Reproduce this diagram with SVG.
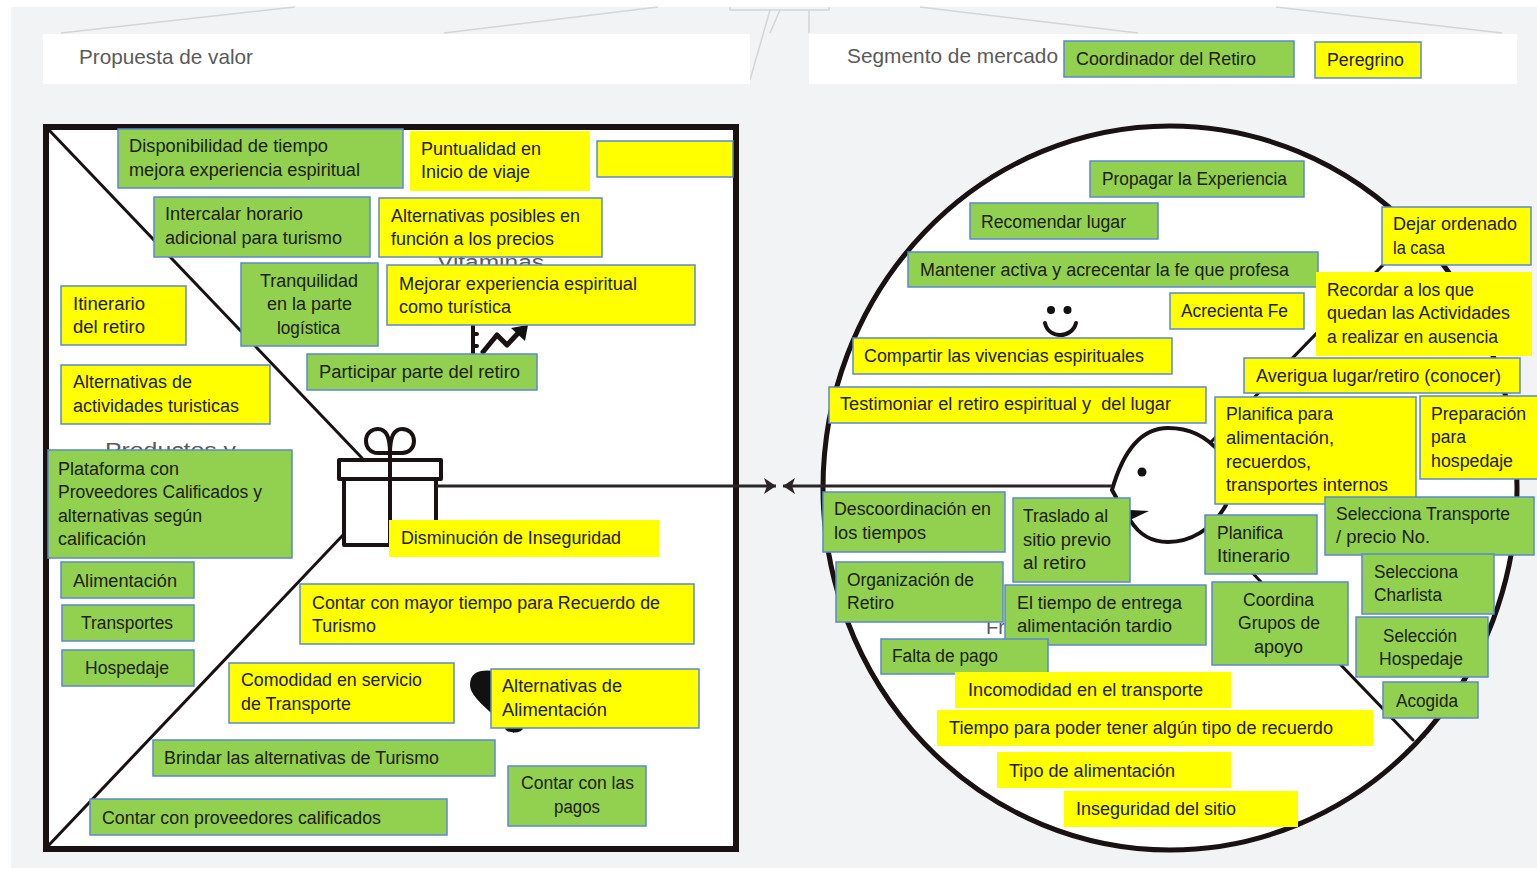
<svg xmlns="http://www.w3.org/2000/svg" width="1537" height="870" viewBox="0 0 1537 870">
<style>
text{font-family:"Liberation Sans",Arial,sans-serif;font-size:18px;fill:#20200c;white-space:pre}
.g{fill:#92d050;stroke:#5b88cf;stroke-width:1.5}
.y{fill:#ffff00;stroke:#5b88cf;stroke-width:1.5}
.n{fill:#ffff00}
.h{font-size:21px;fill:#5a5a5a}
.t{font-size:20px;fill:#5a5a5a}
.f{fill:none;stroke:#d3d5d7;stroke-width:1.5}
.k{fill:none;stroke:#1a1212;stroke-linecap:round;stroke-linejoin:round}
.c{fill:none;stroke:#2a2424;stroke-width:3}
</style>
<defs>
<marker id="ah" markerUnits="userSpaceOnUse" markerWidth="14" markerHeight="18" refX="12" refY="9" orient="auto-start-reverse"><path d="M0 1L12 9L0 17L3 9Z" fill="#2a2424"/></marker>
</defs>
<rect width="1537" height="870" fill="#fff"/>
<rect x="11" y="7" width="1526" height="861" fill="#f1f3f5"/>
<path class="f" d="M61 33L295 7M444 33L658 7M920 7L1138 33M1276 7L1502 33M730 7V10H829V7M770 10L750 80M780 10L770 33M809 10V33"/>
<rect x="43" y="34" width="707" height="50" fill="#fff"/>
<rect x="809" y="34" width="708" height="50" fill="#fff"/>
<text class="h" x="79" y="64" textLength="174" lengthAdjust="spacingAndGlyphs">Propuesta de valor</text>
<text class="h" x="847" y="63" textLength="211" lengthAdjust="spacingAndGlyphs">Segmento de mercado</text>

<rect x="46" y="127" width="690" height="722" fill="#fff" stroke="#1a1212" stroke-width="6"/>
<ellipse cx="1170" cy="488" rx="347" ry="362" fill="#fff" stroke="#1a1212" stroke-width="5"/>
<path class="k" stroke-width="3" d="M49 130L362 458M49 845L343 535M1415 232L1211 442M1240 560L1413 740"/>

<g class="k" stroke-width="4">
<path d="M390 453H378C370 453 366 447 366 441C366 433 372 429 378 429C386 429 390 437 390 453C390 437 394 429 402 429C409 429 414 434 414 441C414 448 409 453 402 453H390Z"/>
<path d="M344 479V545H436V479" fill="#fff"/>
<rect x="339" y="460" width="102" height="19" fill="#fff"/>
<path d="M390 453V545"/>
<path d="M1112 490C1120 462 1135 428 1168 428C1190 428 1205 436 1220 452M1112 490L1116 497M1130 520C1140 536 1152 542 1168 542C1190 542 1212 530 1226 505" fill="none"/>
<path d="M473 326V354M473 334H477M473 346H477"/>
<path d="M483 352L497 335L507 345L522 329" stroke-width="5"/>
<path d="M1045 323C1048 339 1072 339 1076 323" stroke-width="4"/>
</g>
<path d="M528 325L511 328L525 341Z" fill="#111"/>
<path d="M1130 510L1149 511L1130 520Z" fill="#111"/>
<circle cx="1142" cy="472" r="4.5" fill="#111"/>
<circle cx="1051" cy="310" r="4" fill="#111"/>
<circle cx="1067.5" cy="310" r="4" fill="#111"/>
<path d="M514 733C495 715 470 698 470 685C470 672 480 669 495 671L514 690Z" fill="#111"/>
<ellipse cx="514" cy="728" rx="9" ry="4.5" fill="#111"/>

<text class="t" x="437" y="269" textLength="107" lengthAdjust="spacingAndGlyphs">Vitaminas</text>
<text class="t" x="105" y="457" textLength="131" lengthAdjust="spacingAndGlyphs">Productos y</text>
<text class="t" x="986" y="634">Fr</text>

<g id="connectors">
<path class="c" d="M436 486H776" marker-end="url(#ah)"/>
<path class="c" d="M1112 486H783" marker-end="url(#ah)"/>
</g>

<g id="n1"><rect class="g" x="118" y="129" width="285" height="59"/><text x="129" y="152" textLength="199" lengthAdjust="spacingAndGlyphs">Disponibilidad de tiempo</text><text x="129" y="176" textLength="231" lengthAdjust="spacingAndGlyphs">mejora experiencia espiritual</text></g>
<g id="n2"><rect class="n" x="410" y="131" width="180" height="60"/><text x="421" y="155" textLength="120" lengthAdjust="spacingAndGlyphs">Puntualidad en</text><text x="421" y="178" textLength="109" lengthAdjust="spacingAndGlyphs">Inicio de viaje</text></g>
<g id="n3"><rect class="y" x="597" y="141" width="136" height="36"/></g>
<g id="n4"><rect class="g" x="154" y="197" width="216" height="60"/><text x="165" y="220" textLength="138" lengthAdjust="spacingAndGlyphs">Intercalar horario</text><text x="165" y="244" textLength="177" lengthAdjust="spacingAndGlyphs">adicional para turismo</text></g>
<g id="n5"><rect class="y" x="379" y="198" width="223" height="59"/><text x="391" y="222" textLength="189" lengthAdjust="spacingAndGlyphs">Alternativas posibles en</text><text x="391" y="245" textLength="163" lengthAdjust="spacingAndGlyphs">función a los precios</text></g>
<g id="n6"><rect class="g" x="241" y="263" width="137" height="83"/><text x="260" y="287" textLength="98" lengthAdjust="spacingAndGlyphs">Tranquilidad</text><text x="267" y="310" textLength="85" lengthAdjust="spacingAndGlyphs">en la parte</text><text x="277" y="334" textLength="63" lengthAdjust="spacingAndGlyphs">logística</text></g>
<g id="n7"><rect class="y" x="387" y="265" width="308" height="60"/><text x="399" y="290" textLength="238" lengthAdjust="spacingAndGlyphs">Mejorar experiencia espiritual</text><text x="399" y="313" textLength="112" lengthAdjust="spacingAndGlyphs">como turística</text></g>
<g id="n8"><rect class="y" x="61" y="286" width="125" height="59"/><text x="73" y="310" textLength="72" lengthAdjust="spacingAndGlyphs">Itinerario</text><text x="73" y="333" textLength="72" lengthAdjust="spacingAndGlyphs">del retiro</text></g>
<g id="n9"><rect class="y" x="61" y="365" width="209" height="59"/><text x="73" y="388" textLength="119" lengthAdjust="spacingAndGlyphs">Alternativas de</text><text x="73" y="412" textLength="166" lengthAdjust="spacingAndGlyphs">actividades turisticas</text></g>
<g id="n10"><rect class="g" x="307" y="354" width="230" height="36"/><text x="319" y="378" textLength="201" lengthAdjust="spacingAndGlyphs">Participar parte del retiro</text></g>
<g id="n11"><rect class="g" x="48" y="450" width="244" height="108"/><text x="58" y="475" textLength="121" lengthAdjust="spacingAndGlyphs">Plataforma con</text><text x="58" y="498" textLength="204" lengthAdjust="spacingAndGlyphs">Proveedores Calificados y</text><text x="58" y="522" textLength="144" lengthAdjust="spacingAndGlyphs">alternativas según</text><text x="58" y="545" textLength="88" lengthAdjust="spacingAndGlyphs">calificación</text></g>
<g id="n12"><rect class="g" x="61" y="562" width="133" height="36"/><text x="73" y="587" textLength="104" lengthAdjust="spacingAndGlyphs">Alimentación</text></g>
<g id="n13"><rect class="g" x="62" y="605" width="132" height="36"/><text x="81" y="629" textLength="92" lengthAdjust="spacingAndGlyphs">Transportes</text></g>
<g id="n14"><rect class="g" x="62" y="650" width="132" height="36"/><text x="85" y="674" textLength="84" lengthAdjust="spacingAndGlyphs">Hospedaje</text></g>
<g id="n15"><rect class="n" x="389" y="520" width="270" height="37"/><text x="401" y="544" textLength="220" lengthAdjust="spacingAndGlyphs">Disminución de Inseguridad</text></g>
<g id="n16"><rect class="y" x="300" y="584" width="394" height="60"/><text x="312" y="609" textLength="348" lengthAdjust="spacingAndGlyphs">Contar con mayor tiempo para Recuerdo de</text><text x="312" y="632" textLength="64" lengthAdjust="spacingAndGlyphs">Turismo</text></g>
<g id="n17"><rect class="y" x="229" y="663" width="225" height="60"/><text x="241" y="686" textLength="181" lengthAdjust="spacingAndGlyphs">Comodidad en servicio</text><text x="241" y="710" textLength="110" lengthAdjust="spacingAndGlyphs">de Transporte</text></g>
<g id="n18"><rect class="y" x="491" y="669" width="208" height="59"/><text x="502" y="692" textLength="120" lengthAdjust="spacingAndGlyphs">Alternativas de</text><text x="502" y="716" textLength="105" lengthAdjust="spacingAndGlyphs">Alimentación</text></g>
<g id="n19"><rect class="g" x="153" y="740" width="342" height="36"/><text x="164" y="764" textLength="275" lengthAdjust="spacingAndGlyphs">Brindar las alternativas de Turismo</text></g>
<g id="n20"><rect class="g" x="508" y="766" width="138" height="60"/><text x="521" y="789" textLength="113" lengthAdjust="spacingAndGlyphs">Contar con las</text><text x="554" y="813" textLength="46" lengthAdjust="spacingAndGlyphs">pagos</text></g>
<g id="n21"><rect class="g" x="90" y="799" width="357" height="36"/><text x="102" y="824" textLength="279" lengthAdjust="spacingAndGlyphs">Contar con proveedores calificados</text></g>

<g id="n22"><rect class="g" x="1064" y="41" width="230" height="36"/><text x="1076" y="65" textLength="180" lengthAdjust="spacingAndGlyphs">Coordinador del Retiro</text></g>
<g id="n23"><rect class="y" x="1315" y="42" width="106" height="36"/><text x="1327" y="66" textLength="77" lengthAdjust="spacingAndGlyphs">Peregrino</text></g>
<g id="n24"><rect class="g" x="1090" y="161" width="214" height="36"/><text x="1102" y="185" textLength="185" lengthAdjust="spacingAndGlyphs">Propagar la Experiencia</text></g>
<g id="n25"><rect class="g" x="970" y="203" width="188" height="36"/><text x="981" y="228" textLength="145" lengthAdjust="spacingAndGlyphs">Recomendar lugar</text></g>
<g id="n26"><rect class="g" x="908" y="252" width="410" height="35"/><text x="920" y="276" textLength="369" lengthAdjust="spacingAndGlyphs">Mantener activa y acrecentar la fe que profesa</text></g>
<g id="n27"><rect class="y" x="1382" y="207" width="149" height="58"/><text x="1393" y="230" textLength="124" lengthAdjust="spacingAndGlyphs">Dejar ordenado</text><text x="1393" y="254" textLength="52" lengthAdjust="spacingAndGlyphs">la casa</text></g>
<g id="n28"><rect class="n" x="1316" y="272" width="216" height="84"/><text x="1327" y="296" textLength="147" lengthAdjust="spacingAndGlyphs">Recordar a los que</text><text x="1327" y="319" textLength="183" lengthAdjust="spacingAndGlyphs">quedan las Actividades</text><text x="1327" y="343" textLength="171" lengthAdjust="spacingAndGlyphs">a realizar en ausencia</text></g>
<g id="n29"><rect class="y" x="1170" y="293" width="134" height="36"/><text x="1181" y="317" textLength="107" lengthAdjust="spacingAndGlyphs">Acrecienta Fe</text></g>
<g id="n30"><rect class="y" x="853" y="338" width="319" height="36"/><text x="864" y="362" textLength="280" lengthAdjust="spacingAndGlyphs">Compartir las vivencias espirituales</text></g>
<g id="n31"><rect class="y" x="1244" y="358" width="276" height="35"/><text x="1256" y="382" textLength="245" lengthAdjust="spacingAndGlyphs">Averigua lugar/retiro (conocer)</text></g>
<g id="n32"><rect class="y" x="829" y="387" width="377" height="36"/><text x="840" y="410" textLength="331" lengthAdjust="spacingAndGlyphs">Testimoniar el retiro espiritual y  del lugar</text></g>
<g id="n33"><rect class="y" x="1215" y="397" width="201" height="107"/><text x="1226" y="420" textLength="107" lengthAdjust="spacingAndGlyphs">Planifica para</text><text x="1226" y="444" textLength="108" lengthAdjust="spacingAndGlyphs">alimentación,</text><text x="1226" y="468" textLength="85" lengthAdjust="spacingAndGlyphs">recuerdos,</text><text x="1226" y="491" textLength="162" lengthAdjust="spacingAndGlyphs">transportes internos</text></g>
<g id="n34"><rect class="y" x="1420" y="396" width="120" height="83"/><text x="1431" y="420" textLength="95" lengthAdjust="spacingAndGlyphs">Preparación</text><text x="1431" y="443" textLength="35" lengthAdjust="spacingAndGlyphs">para</text><text x="1431" y="467" textLength="82" lengthAdjust="spacingAndGlyphs">hospedaje</text></g>
<g id="n35"><rect class="g" x="823" y="492" width="182" height="60"/><text x="834" y="515" textLength="157" lengthAdjust="spacingAndGlyphs">Descoordinación en</text><text x="834" y="539" textLength="92" lengthAdjust="spacingAndGlyphs">los tiempos</text></g>
<g id="n36"><rect class="g" x="1013" y="498" width="117" height="84"/><text x="1023" y="522" textLength="85" lengthAdjust="spacingAndGlyphs">Traslado al</text><text x="1023" y="546" textLength="88" lengthAdjust="spacingAndGlyphs">sitio previo</text><text x="1023" y="569" textLength="63" lengthAdjust="spacingAndGlyphs">al retiro</text></g>
<g id="n37"><rect class="g" x="836" y="562" width="167" height="60"/><text x="847" y="586" textLength="127" lengthAdjust="spacingAndGlyphs">Organización de</text><text x="847" y="609" textLength="47" lengthAdjust="spacingAndGlyphs">Retiro</text></g>
<g id="n38"><rect class="g" x="1005" y="585" width="201" height="60"/><text x="1017" y="609" textLength="165" lengthAdjust="spacingAndGlyphs">El tiempo de entrega</text><text x="1017" y="632" textLength="155" lengthAdjust="spacingAndGlyphs">alimentación tardio</text></g>
<g id="n39"><rect class="g" x="881" y="639" width="167" height="35"/><text x="892" y="662" textLength="106" lengthAdjust="spacingAndGlyphs">Falta de pago</text></g>
<g id="n40"><rect class="g" x="1205" y="515" width="112" height="59"/><text x="1217" y="539" textLength="66" lengthAdjust="spacingAndGlyphs">Planifica</text><text x="1217" y="562" textLength="73" lengthAdjust="spacingAndGlyphs">Itinerario</text></g>
<g id="n41"><rect class="g" x="1212" y="582" width="136" height="83"/><text x="1243" y="606" textLength="71" lengthAdjust="spacingAndGlyphs">Coordina</text><text x="1238" y="629" textLength="82" lengthAdjust="spacingAndGlyphs">Grupos de</text><text x="1254" y="653" textLength="49" lengthAdjust="spacingAndGlyphs">apoyo</text></g>
<g id="n42"><rect class="g" x="1325" y="497" width="209" height="58"/><text x="1336" y="520" textLength="174" lengthAdjust="spacingAndGlyphs">Selecciona Transporte</text><text x="1336" y="543" textLength="94" lengthAdjust="spacingAndGlyphs">/ precio No.</text></g>
<g id="n43"><rect class="g" x="1362" y="554" width="132" height="60"/><text x="1374" y="578" textLength="84" lengthAdjust="spacingAndGlyphs">Selecciona</text><text x="1374" y="601" textLength="68" lengthAdjust="spacingAndGlyphs">Charlista</text></g>
<g id="n44"><rect class="g" x="1356" y="617" width="132" height="60"/><text x="1383" y="642" textLength="74" lengthAdjust="spacingAndGlyphs">Selección</text><text x="1379" y="665" textLength="84" lengthAdjust="spacingAndGlyphs">Hospedaje</text></g>
<g id="n45"><rect class="g" x="1383" y="682" width="95" height="36"/><text x="1396" y="707" textLength="62" lengthAdjust="spacingAndGlyphs">Acogida</text></g>
<g id="n46"><rect class="n" x="955" y="672" width="276" height="36"/><text x="968" y="696" textLength="235" lengthAdjust="spacingAndGlyphs">Incomodidad en el transporte</text></g>
<g id="n47"><rect class="n" x="937" y="710" width="436" height="36"/><text x="949" y="734" textLength="384" lengthAdjust="spacingAndGlyphs">Tiempo para poder tener algún tipo de recuerdo</text></g>
<g id="n48"><rect class="n" x="997" y="752" width="234" height="36"/><text x="1009" y="777" textLength="166" lengthAdjust="spacingAndGlyphs">Tipo de alimentación</text></g>
<g id="n49"><rect class="n" x="1064" y="791" width="234" height="36"/><text x="1076" y="815" textLength="160" lengthAdjust="spacingAndGlyphs">Inseguridad del sitio</text></g>
</svg>
